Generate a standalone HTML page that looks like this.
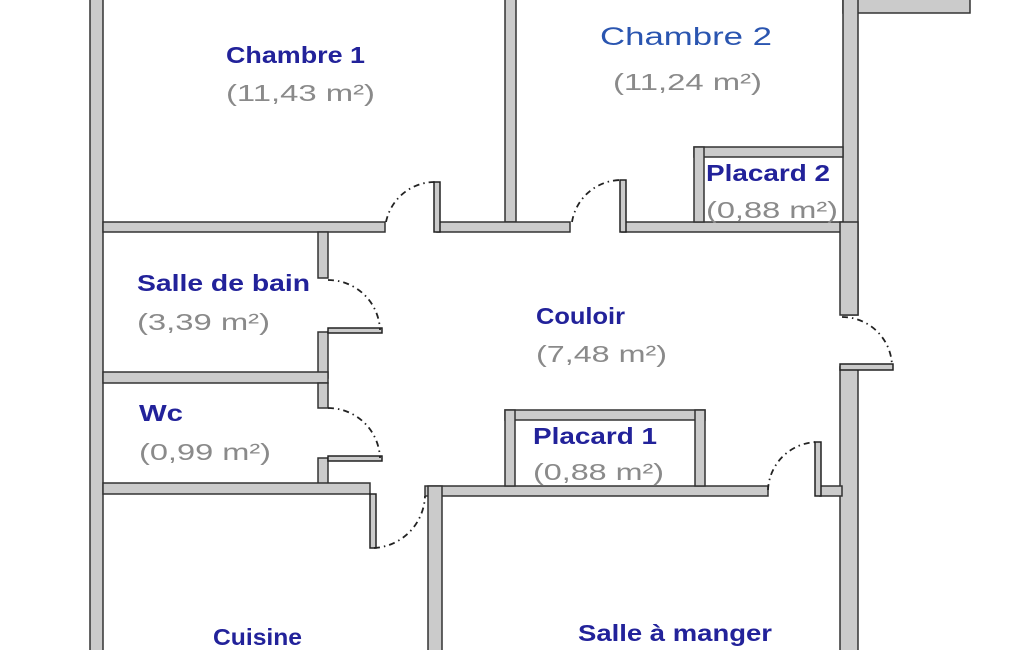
<!DOCTYPE html>
<html><head><meta charset="utf-8"><style>
html,body{margin:0;padding:0;background:#fff;}
svg{display:block}
.w{fill:#cbcbcb;stroke:#333;stroke-width:1.5}
.d{fill:none;stroke:#222;stroke-width:1.8;stroke-dasharray:6 4 1.5 4}
.l{fill:#cbcbcb;stroke:#222;stroke-width:1.5}
.t{font-family:"Liberation Sans",sans-serif;font-weight:bold;font-size:23px;fill:#22229a}
.a{font-family:"Liberation Sans",sans-serif;font-size:23px;fill:#8a8a8a}
</style></head><body>
<svg width="1025" height="650" viewBox="0 0 1025 650">
<rect class="w" x="90" y="-5" width="13" height="660"/>
<rect class="w" x="505" y="-5" width="11" height="227"/>
<rect class="w" x="843" y="-5" width="127" height="18"/>
<rect class="w" x="843" y="-5" width="15" height="320"/>
<rect class="w" x="103" y="222" width="282" height="10"/>
<rect class="w" x="437" y="222" width="133" height="10"/>
<rect class="w" x="622" y="222" width="221" height="10"/>
<rect class="l" x="434" y="182" width="6" height="50"/>
<path class="d" d="M386,222 A50,50 0 0 1 436,182"/>
<rect class="l" x="620" y="180" width="6" height="52"/>
<path class="d" d="M572,222 A50,50 0 0 1 622,180"/>
<rect class="w" x="694" y="147" width="149" height="10"/>
<rect class="w" x="694" y="147" width="10" height="75"/>
<rect class="w" x="840" y="222" width="18" height="93"/>
<rect class="w" x="840" y="367" width="18" height="290"/>
<rect class="l" x="840" y="364" width="53" height="6"/>
<path class="d" d="M842,317 A50,50 0 0 1 892,366"/>
<rect class="w" x="318" y="232" width="10" height="46"/>
<rect class="w" x="318" y="332" width="10" height="46"/>
<rect class="w" x="103" y="372" width="225" height="11"/>
<rect class="w" x="318" y="383" width="10" height="25"/>
<rect class="w" x="318" y="458" width="10" height="28"/>
<rect class="l" x="328" y="328" width="54" height="5"/>
<path class="d" d="M328,280 A52,52 0 0 1 380,330"/>
<rect class="l" x="328" y="456" width="54" height="5"/>
<path class="d" d="M328,408 A52,52 0 0 1 380,458"/>
<rect class="w" x="103" y="483" width="267" height="11"/>
<rect class="w" x="425" y="486" width="343" height="10"/>
<rect class="w" x="820" y="486" width="22" height="10"/>
<rect class="w" x="428" y="486" width="14" height="170"/>
<rect class="l" x="370" y="494" width="6" height="54"/>
<path class="d" d="M374,548 A54,54 0 0 0 425,496"/>
<rect class="l" x="815" y="442" width="6" height="54"/>
<path class="d" d="M768,490 A50,50 0 0 1 818,442"/>
<rect class="w" x="505" y="410" width="200" height="10"/>
<rect class="w" x="505" y="410" width="10" height="76"/>
<rect class="w" x="695" y="410" width="10" height="76"/>
<text class="t" x="226" y="63" textLength="139" lengthAdjust="spacingAndGlyphs">Chambre 1</text>
<text class="a" x="226" y="101" textLength="149" lengthAdjust="spacingAndGlyphs">(11,43 m²)</text>
<text class="t" x="600" y="45" style="fill:#2a55b0;font-weight:normal;font-size:25px" textLength="172" lengthAdjust="spacingAndGlyphs">Chambre 2</text>
<text class="a" x="613" y="90" textLength="149" lengthAdjust="spacingAndGlyphs">(11,24 m²)</text>
<text class="t" x="706" y="181" textLength="124" lengthAdjust="spacingAndGlyphs">Placard 2</text>
<text class="a" x="706" y="218" textLength="132" lengthAdjust="spacingAndGlyphs">(0,88 m²)</text>
<text class="t" x="137" y="291" textLength="173" lengthAdjust="spacingAndGlyphs">Salle de bain</text>
<text class="a" x="137" y="330" textLength="133" lengthAdjust="spacingAndGlyphs">(3,39 m²)</text>
<text class="t" x="536" y="324" textLength="89" lengthAdjust="spacingAndGlyphs">Couloir</text>
<text class="a" x="536" y="362" textLength="131" lengthAdjust="spacingAndGlyphs">(7,48 m²)</text>
<text class="t" x="139" y="421" textLength="44" lengthAdjust="spacingAndGlyphs">Wc</text>
<text class="a" x="139" y="460" textLength="132" lengthAdjust="spacingAndGlyphs">(0,99 m²)</text>
<text class="t" x="533" y="444" textLength="124" lengthAdjust="spacingAndGlyphs">Placard 1</text>
<text class="a" x="533" y="480" textLength="131" lengthAdjust="spacingAndGlyphs">(0,88 m²)</text>
<text class="t" x="213" y="645" textLength="89" lengthAdjust="spacingAndGlyphs">Cuisine</text>
<text class="t" x="578" y="641" textLength="194" lengthAdjust="spacingAndGlyphs">Salle à manger</text>
</svg>
</body></html>
